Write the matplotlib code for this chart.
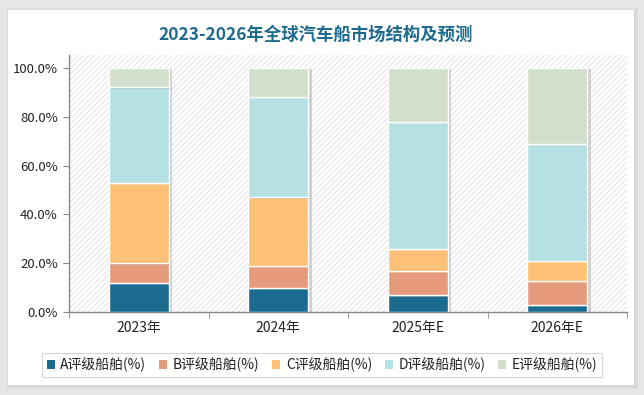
import matplotlib
matplotlib.use("Agg")
import matplotlib.pyplot as plt
import matplotlib.patches as mpatches
import matplotlib.patheffects as pe
from matplotlib.ticker import FuncFormatter
import numpy as np

plt.rcParams['font.family'] = ['Noto Sans CJK SC', 'DejaVu Sans']
plt.rcParams['hatch.linewidth'] = 0.5

categories = ["2023年", "2024年", "2025年E", "2026年E"]
series_names = ["A评级船舶(%)", "B评级船舶(%)", "C评级船舶(%)", "D评级船舶(%)", "E评级船舶(%)"]
a_vals = [12, 10, 7, 3]
b_vals = [8, 9, 10, 10]
c_vals = [33, 28, 9, 8]
d_vals = [39, 41, 52, 48]
e_vals = [8, 12, 22, 31]
colors = ["#1b6b8e", "#e59b7b", "#fdc077", "#b5e1e4", "#d2dfcc"]

W, H = 644, 395
fig = plt.figure(figsize=(W/100, H/100), dpi=100)
fig.patch.set_facecolor('#e6e6e6')

# background panel
bg = fig.add_axes([0, 0, 1, 1], zorder=-10)
bg.set_xlim(0, W)
bg.set_ylim(H, 0)
bg.axis('off')
for d, c in [(4, '#dedede'), (2, '#d4d4d4')]:
    bg.add_patch(mpatches.Rectangle((8 - d + 2, 10 - d + 2), 626 + 2*d - 2, 375 + 2*d - 2,
                                    facecolor=c, edgecolor='none'))
bg.add_patch(mpatches.Rectangle((8, 10), 626, 375, facecolor='white', edgecolor='none'))

ax = fig.add_axes([69/W, (H-312.3)/H, (627-69)/W, (312.3-55)/H])
ax.set_facecolor('white')
ax.add_patch(mpatches.Rectangle((0, 0), 1, 1, transform=ax.transAxes,
                                facecolor='white', edgecolor='#d9d9d9', linewidth=0,
                                hatch='//////', zorder=0))

x = np.arange(len(categories))
series = [a_vals, b_vals, c_vals, d_vals, e_vals]
bottom = np.zeros(len(categories))
for name, vals, col in zip(series_names, series, colors):
    bars = ax.bar(x, vals, bottom=bottom, width=0.43, color=col,
                  edgecolor='white', linewidth=1.0, zorder=3, label=name)
    for b in bars:
        b.set_path_effects([pe.SimplePatchShadow(offset=(2.5, -1), shadow_rgbFace='#888888', alpha=0.35), pe.Normal()])
    bottom += np.array(vals)

ax.set_xlim(-0.5, 3.5)
ax.set_ylim(0, 105.2)
ax.set_yticks(np.arange(0, 101, 20))
ax.yaxis.set_major_formatter(FuncFormatter(lambda v, p: f"{v:.1f}%"))
ax.set_xticks(x)
ax.set_xticklabels(categories)
ax.set_xticks(np.arange(-0.5, 3.6, 1), minor=True)
ax.tick_params(axis='x', which='major', length=0, pad=6, labelsize=10, colors='#222222')
ax.tick_params(axis='x', which='minor', length=4, color='#888888', direction='out')
ax.tick_params(axis='y', length=4, color='#888888', labelsize=9.5, labelcolor='#222222', pad=4)
for s in ['top', 'right']:
    ax.spines[s].set_visible(False)
for s in ['left', 'bottom']:
    ax.spines[s].set_color('#888888')
    ax.spines[s].set_linewidth(1.0)

fig.text(316/W, 1 - 35/H, "2023-2026年全球汽车船市场结构及预测", ha='center', va='center',
         fontsize=12.5, fontweight='bold', color='#1f6b8e')

leg = fig.legend(handles=[mpatches.Patch(facecolor=c, edgecolor='none') for c in colors],
                 labels=series_names, loc='center', ncol=5,
                 bbox_to_anchor=(322/W, 1 - 365/H), bbox_transform=fig.transFigure,
                 frameon=True, fontsize=10,
                 handlelength=0.6, handleheight=0.6, handletextpad=0.4,
                 columnspacing=0.9, borderpad=0.35, fancybox=False)
leg.get_frame().set_edgecolor('#cccccc')
leg.get_frame().set_linewidth(0.8)
for t in leg.get_texts():
    t.set_color('#222222')

fig.savefig("out.png", dpi=100, facecolor=fig.get_facecolor())
